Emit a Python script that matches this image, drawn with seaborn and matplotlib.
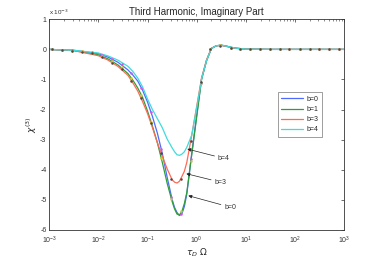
import numpy as np
import pandas as pd
import matplotlib
matplotlib.use("Agg")
import matplotlib.pyplot as plt
import seaborn as sns

# ---- data (chi^(3) in units of 1e-3) ----
# line grid, log10(tau_D * Omega)
log_grid = [-3.0, -2.5, -2.0, -1.8, -1.6, -1.4, -1.3, -1.2, -1.1, -1.0, -0.9, -0.8, -0.7,
            -0.6, -0.5, -0.45, -0.4, -0.35, -0.3, -0.25, -0.2, -0.1, 0.0, 0.1, 0.2, 0.3,
            0.4, 0.5, 0.6, 0.7, 0.8, 1.0, 1.5, 2.0, 3.0]

b0_line = [0, -0.03, -0.14, -0.26, -0.43, -0.68, -0.85, -1.05, -1.36, -1.75, -2.23, -2.78, -3.45,
           -4.25, -4.98, -5.25, -5.42, -5.52, -5.46, -5.22, -4.8, -3.45, -2.2, -0.98, -0.38, 0.03,
           0.12, 0.14, 0.11, 0.07, 0.04, 0.01, 0, 0, 0]
b1_line = [0, -0.04, -0.18, -0.32, -0.52, -0.8, -1.02, -1.28, -1.6, -2.05, -2.55, -3.1, -3.75,
           -4.45, -5.05, -5.3, -5.47, -5.5, -5.38, -5.12, -4.75, -3.5, -2.25, -1.0, -0.38, 0.03,
           0.12, 0.14, 0.11, 0.07, 0.04, 0.01, 0, 0, 0]
b3_line = [0, -0.04, -0.21, -0.36, -0.57, -0.86, -1.11, -1.38, -1.74, -2.13, -2.6, -3.1, -3.55,
           -3.97, -4.33, -4.41, -4.44, -4.38, -4.22, -4.05, -3.75, -2.85, -1.9, -0.95, -0.35, 0.04,
           0.12, 0.13, 0.1, 0.06, 0.03, 0.01, 0, 0, 0]
b4_line = [0, -0.03, -0.12, -0.22, -0.36, -0.56, -0.73, -0.95, -1.25, -1.65, -2.0, -2.3, -2.6,
           -2.98, -3.27, -3.4, -3.5, -3.52, -3.48, -3.4, -3.25, -2.85, -1.95, -0.98, -0.38, 0.03,
           0.12, 0.14, 0.11, 0.07, 0.04, 0.01, 0, 0, 0]

# sampled points
log_pts = [-2.94, -2.74, -2.54, -2.34, -2.13, -1.93, -1.73, -1.53, -1.33, -1.13, -0.93, -0.72,
           -0.52, -0.32, -0.12, 0.08, 0.28, 0.48, 0.69, 0.89, 1.09, 1.29, 1.49, 1.69, 1.89,
           2.10, 2.30, 2.50, 2.70, 2.90]
pts_b0 = [0, -0.01, -0.03, -0.05, -0.09, -0.17, -0.33, -0.5, -0.79, -1.27, -2.07, -3.32, -4.9,
          -5.48, -3.64, -1.12, 0.02, 0.13, 0.06, 0.01, 0, 0, 0, 0, 0, 0, 0, 0, 0, 0]
pts_b1 = [0, -0.02, -0.04, -0.06, -0.11, -0.22, -0.38, -0.6, -0.96, -1.51, -2.4, -3.61, -4.96,
          -5.36, -3.7, -1.1, 0.02, 0.13, 0.06, 0.01, 0, 0, 0, 0, 0, 0, 0, 0, 0, 0]
pts_b3 = [0, -0.02, -0.04, -0.07, -0.13, -0.26, -0.44, -0.66, -1.04, -1.63, -2.45, -3.45, -4.29,
          -4.29, -3.03, -1.08, 0.01, 0.12, 0.06, 0.01, 0, 0, 0, 0, 0, 0, 0, 0, 0, 0]

labels = ["b=0", "b=1", "b=3", "b=4"]
line_colors = ["#4f6bff", "#2e9e3a", "#ff6a55", "#3fdcdc"]

sns.set_theme(style="white")
plt.rcParams["font.family"] = ["Liberation Sans", "DejaVu Sans"]
plt.rcParams["axes.unicode_minus"] = False

fig, ax = plt.subplots(figsize=(3.81, 2.59), dpi=100)
fig.subplots_adjust(left=0.1294, right=0.9029, bottom=0.112, top=0.9255)

x_line = 10 ** np.array(log_grid)
for lab, col, vals in zip(labels, line_colors, [b0_line, b1_line, b3_line, b4_line]):
    sns.lineplot(x=x_line, y=vals, color=col, lw=0.9, label=lab, ax=ax)

x_pts = 10 ** np.array(log_pts)
ax.plot(x_pts, pts_b0, "o", ms=1.8, mfc="#e050e0", mec="none", zorder=5)
ax.plot(x_pts, pts_b1, "o", ms=1.8, mfc="#cccc22", mec="none", zorder=5)
ax.plot(x_pts, pts_b3, "o", ms=1.8, mfc="#484848", mec="none", zorder=6)

ax.set_xscale("log")
ax.set_xlim(1e-3, 1e3)
ax.set_ylim(-6, 1)
ax.set_yticks(range(-6, 2))
ax.set_xticks([1e-3, 1e-2, 1e-1, 1, 1e1, 1e2, 1e3])

ax.tick_params(which="both", direction="in", top=True, right=True,
               labelsize=5, colors="#333333", pad=2)
ax.tick_params(axis="x", which="both", pad=3.5)
ax.tick_params(which="major", length=2.5, width=0.5)
ax.tick_params(which="minor", length=1.3, width=0.4)
for sp in ax.spines.values():
    sp.set_color("#333333")
    sp.set_linewidth(0.6)

ax.set_title("Third Harmonic, Imaginary Part", fontsize=7, pad=3)
ax.set_xlabel(r"$\tau_D\ \Omega$", fontsize=6.5, labelpad=0)
ax.set_ylabel(r"$\chi^{(3)}$", fontsize=6.5, labelpad=1)
ax.text(0.0, 1.01, r"x 10$^{-3}$", transform=ax.transAxes, fontsize=4.5,
        ha="left", va="bottom", color="#333333")

arrow = dict(arrowstyle="-|>", color="#222222", lw=0.5, mutation_scale=5,
             shrinkA=0, shrinkB=0)
ax.annotate("b=4", xy=(10 ** -0.19, -3.31), xytext=(10 ** 0.43, -3.62),
            fontsize=5, ha="left", va="center", color="#333333", arrowprops=arrow)
ax.annotate("b=3", xy=(10 ** -0.21, -4.13), xytext=(10 ** 0.36, -4.41),
            fontsize=5, ha="left", va="center", color="#333333", arrowprops=arrow)
ax.annotate("b=0", xy=(10 ** -0.17, -4.86), xytext=(10 ** 0.56, -5.24),
            fontsize=5, ha="left", va="center", color="#333333", arrowprops=arrow)

leg = ax.legend(loc="upper left", bbox_to_anchor=(0.775, 0.653), borderaxespad=0,
                fontsize=5, handlelength=3.2, frameon=True, fancybox=False,
                borderpad=0.5, labelspacing=0.45, handletextpad=0.4)
leg.get_frame().set_edgecolor("#555555")
leg.get_frame().set_linewidth(0.5)

fig.savefig("out.png", dpi=100)
